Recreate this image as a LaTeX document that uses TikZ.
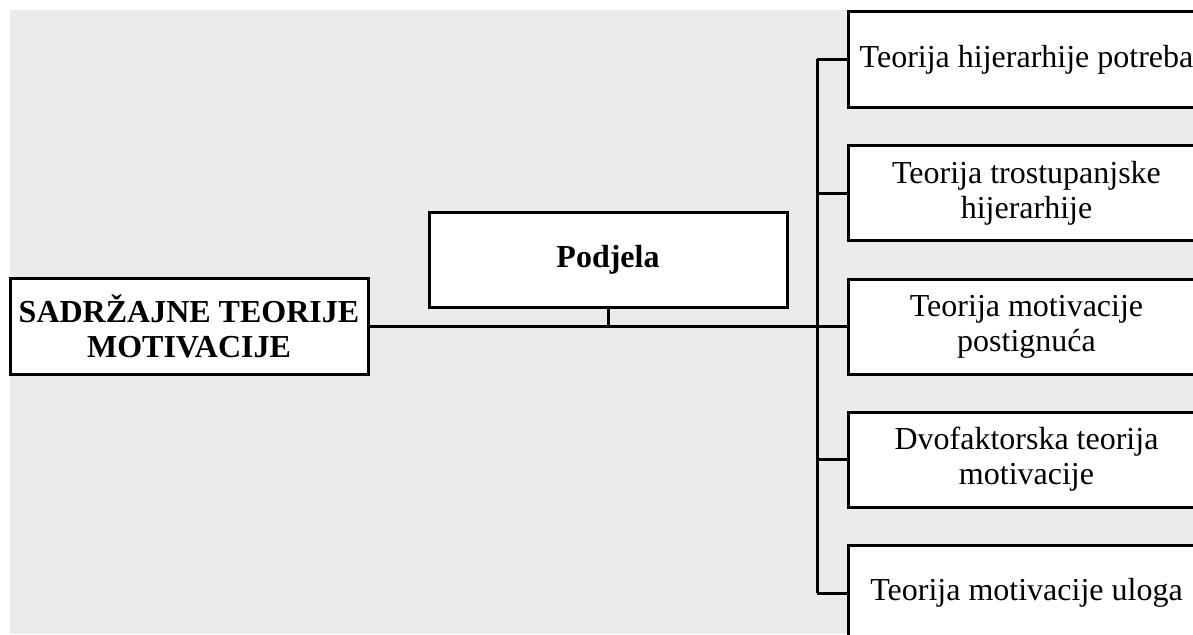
\documentclass[tikz,border=0pt]{standalone}
\usepackage{fontspec}
\setmainfont{Liberation Serif}
\usepackage{xcolor}
\usepackage{tikz}
\definecolor{bggray}{HTML}{EBEBEB}

\begin{document}
\begin{tikzpicture}[x=1pt, y=1pt, line width=3pt]
		
		\tikzset{
			headbox/.style={draw, fill=white, align=center, inner sep=0pt, minimum width=358pt, minimum height=96pt, font=\fontsize{32}{35}\selectfont\bfseries},
			theorybox/.style={draw, fill=white, align=center, inner sep=0pt, minimum width=357pt, minimum height=95pt, font=\fontsize{32}{35}\selectfont},
		}
		
		\useasboundingbox (0,0) rectangle (1193,-634);
		\clip (0,0) rectangle (1193,-634);
		\fill [bggray] (10,-10) rectangle (1193,-634);
		
		\node [headbox] (sadrzajne) at (189,-326) {SADRŽAJNE TEORIJE\\MOTIVACIJE};
		\node [headbox, minimum height=95pt] (podjela) at (608,-259.5) {Podjela};
		
		\node [theorybox] (t1) at (1026.5,-59.5) {Teorija hijerarhije potreba};
		\node [theorybox] (t2) at (1026.5,-193) {Teorija trostupanjske\\hijerarhije};
		\node [theorybox] (t3) at (1026.5,-326.5) {Teorija motivacije\\postignuća};
		\node [theorybox] (t4) at (1026.5,-459.5) {Dvofaktorska teorija\\motivacije};
		\node [theorybox] (t5) at (1026.5,-593) {Teorija motivacije uloga};
		
		\coordinate (bus) at (817,-326);
		
		\draw (sadrzajne.east) -- (sadrzajne.east -| bus);
		\draw (podjela.south) -- (podjela.south |- sadrzajne.east);
		\draw (t1.west -| bus) -- (t5.west -| bus);
		
		\draw (t1.west -| bus) -- (t1.west);
		\draw (t2.west -| bus) -- (t2.west);
		\draw (t3.west -| bus) -- (t3.west);
		\draw (t4.west -| bus) -- (t4.west);
		\draw (t5.west -| bus) -- (t5.west);
		\end{tikzpicture}
\end{document}
